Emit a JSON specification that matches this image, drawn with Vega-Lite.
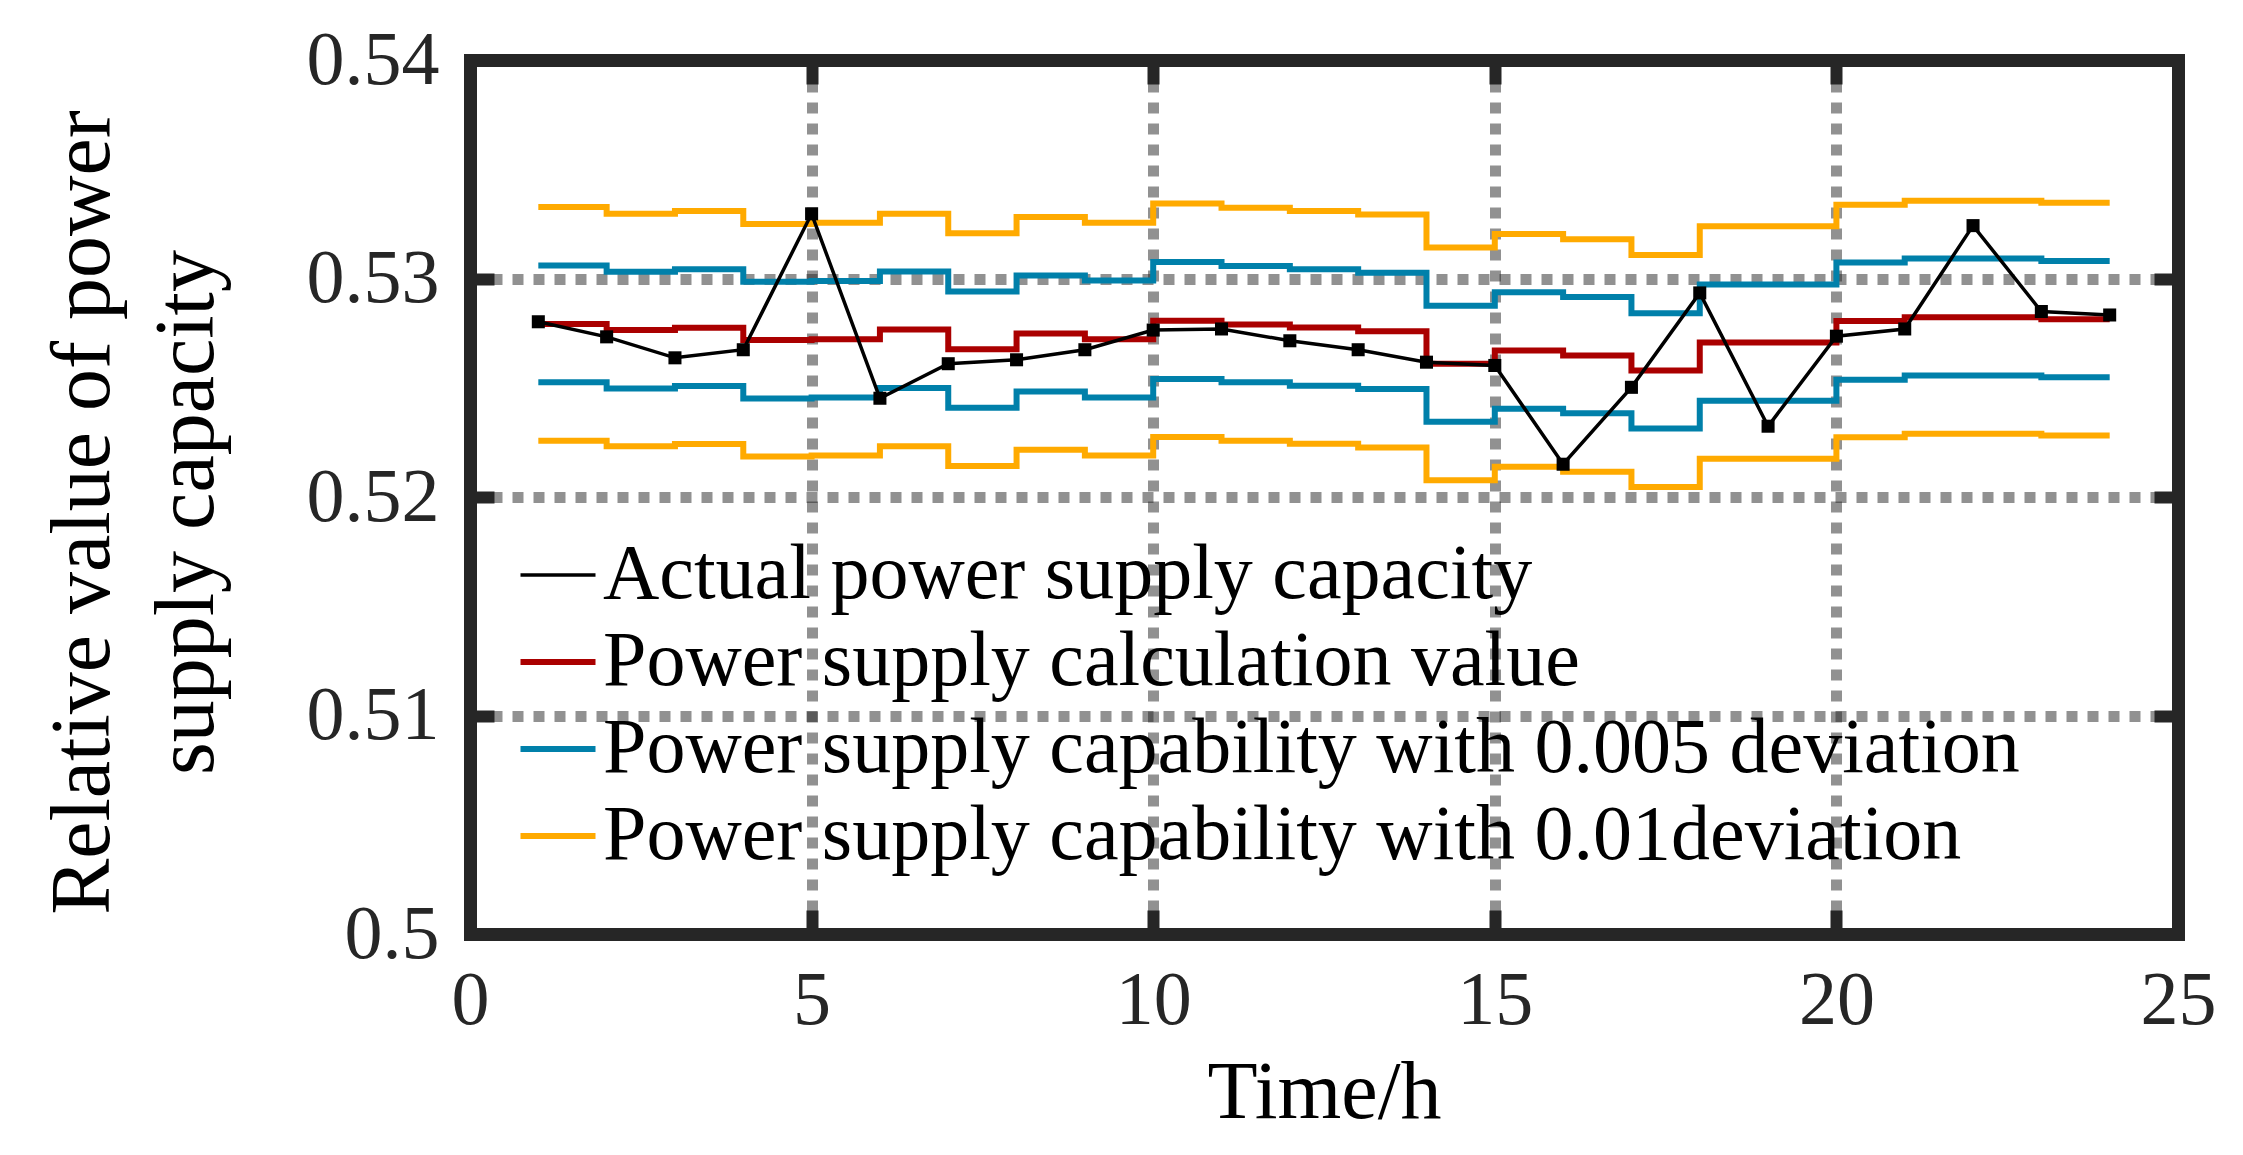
{
  "$schema": "https://vega.github.io/schema/vega-lite/v6.json",
  "width": 1708,
  "height": 874,
  "autosize": {"type": "none"},
  "padding": {"left": 470, "top": 60, "right": 65, "bottom": 221},
  "background": "white",
  "config": {
    "font": "Liberation Serif",
    "view": {"stroke": null},
    "axis": {"labelFont": "Liberation Serif", "titleFont": "Liberation Serif"},
    "legend": {"labelFont": "Liberation Serif"}
  },
  "data": {
    "values": [
      {"h":1,"s":"A","b":"m","v":0.52802},{"h":1,"s":"C","b":"m","v":0.52792},{"h":1,"s":"D5","b":"up","v":0.53059},{"h":1,"s":"D5","b":"lo","v":0.52525},{"h":1,"s":"D10","b":"up","v":0.53327},{"h":1,"s":"D10","b":"lo","v":0.52258},
      {"h":2,"s":"A","b":"m","v":0.52733},{"h":2,"s":"C","b":"m","v":0.52764},{"h":2,"s":"D5","b":"up","v":0.53031},{"h":2,"s":"D5","b":"lo","v":0.52497},{"h":2,"s":"D10","b":"up","v":0.53296},{"h":2,"s":"D10","b":"lo","v":0.52232},
      {"h":3,"s":"A","b":"m","v":0.52637},{"h":3,"s":"C","b":"m","v":0.52775},{"h":3,"s":"D5","b":"up","v":0.53042},{"h":3,"s":"D5","b":"lo","v":0.52508},{"h":3,"s":"D10","b":"up","v":0.53309},{"h":3,"s":"D10","b":"lo","v":0.52242},
      {"h":4,"s":"A","b":"m","v":0.52674},{"h":4,"s":"C","b":"m","v":0.52718},{"h":4,"s":"D5","b":"up","v":0.52985},{"h":4,"s":"D5","b":"lo","v":0.52451},{"h":4,"s":"D10","b":"up","v":0.53250},{"h":4,"s":"D10","b":"lo","v":0.52185},
      {"h":5,"s":"A","b":"m","v":0.53296},{"h":5,"s":"C","b":"m","v":0.52722},{"h":5,"s":"D5","b":"up","v":0.52989},{"h":5,"s":"D5","b":"lo","v":0.52455},{"h":5,"s":"D10","b":"up","v":0.53255},{"h":5,"s":"D10","b":"lo","v":0.52190},
      {"h":6,"s":"A","b":"m","v":0.52452},{"h":6,"s":"C","b":"m","v":0.52767},{"h":6,"s":"D5","b":"up","v":0.53032},{"h":6,"s":"D5","b":"lo","v":0.52499},{"h":6,"s":"D10","b":"up","v":0.53296},{"h":6,"s":"D10","b":"lo","v":0.52232},
      {"h":7,"s":"A","b":"m","v":0.52610},{"h":7,"s":"C","b":"m","v":0.52676},{"h":7,"s":"D5","b":"up","v":0.52940},{"h":7,"s":"D5","b":"lo","v":0.52409},{"h":7,"s":"D10","b":"up","v":0.53207},{"h":7,"s":"D10","b":"lo","v":0.52142},
      {"h":8,"s":"A","b":"m","v":0.52628},{"h":8,"s":"C","b":"m","v":0.52748},{"h":8,"s":"D5","b":"up","v":0.53014},{"h":8,"s":"D5","b":"lo","v":0.52483},{"h":8,"s":"D10","b":"up","v":0.53281},{"h":8,"s":"D10","b":"lo","v":0.52216},
      {"h":9,"s":"A","b":"m","v":0.52674},{"h":9,"s":"C","b":"m","v":0.52722},{"h":9,"s":"D5","b":"up","v":0.52991},{"h":9,"s":"D5","b":"lo","v":0.52455},{"h":9,"s":"D10","b":"up","v":0.53255},{"h":9,"s":"D10","b":"lo","v":0.52190},
      {"h":10,"s":"A","b":"m","v":0.52764},{"h":10,"s":"C","b":"m","v":0.52807},{"h":10,"s":"D5","b":"up","v":0.53076},{"h":10,"s":"D5","b":"lo","v":0.52540},{"h":10,"s":"D10","b":"up","v":0.53343},{"h":10,"s":"D10","b":"lo","v":0.52275},
      {"h":11,"s":"A","b":"m","v":0.52769},{"h":11,"s":"C","b":"m","v":0.52790},{"h":11,"s":"D5","b":"up","v":0.53057},{"h":11,"s":"D5","b":"lo","v":0.52525},{"h":11,"s":"D10","b":"up","v":0.53324},{"h":11,"s":"D10","b":"lo","v":0.52258},
      {"h":12,"s":"A","b":"m","v":0.52715},{"h":12,"s":"C","b":"m","v":0.52776},{"h":12,"s":"D5","b":"up","v":0.53042},{"h":12,"s":"D5","b":"lo","v":0.52509},{"h":12,"s":"D10","b":"up","v":0.53309},{"h":12,"s":"D10","b":"lo","v":0.52244},
      {"h":13,"s":"A","b":"m","v":0.52674},{"h":13,"s":"C","b":"m","v":0.52759},{"h":13,"s":"D5","b":"up","v":0.53026},{"h":13,"s":"D5","b":"lo","v":0.52494},{"h":13,"s":"D10","b":"up","v":0.53293},{"h":13,"s":"D10","b":"lo","v":0.52227},
      {"h":14,"s":"A","b":"m","v":0.52617},{"h":14,"s":"C","b":"m","v":0.52610},{"h":14,"s":"D5","b":"up","v":0.52875},{"h":14,"s":"D5","b":"lo","v":0.52344},{"h":14,"s":"D10","b":"up","v":0.53142},{"h":14,"s":"D10","b":"lo","v":0.52077},
      {"h":15,"s":"A","b":"m","v":0.52602},{"h":15,"s":"C","b":"m","v":0.52671},{"h":15,"s":"D5","b":"up","v":0.52937},{"h":15,"s":"D5","b":"lo","v":0.52404},{"h":15,"s":"D10","b":"up","v":0.53204},{"h":15,"s":"D10","b":"lo","v":0.52139},
      {"h":16,"s":"A","b":"m","v":0.52150},{"h":16,"s":"C","b":"m","v":0.52648},{"h":16,"s":"D5","b":"up","v":0.52915},{"h":16,"s":"D5","b":"lo","v":0.52383},{"h":16,"s":"D10","b":"up","v":0.53180},{"h":16,"s":"D10","b":"lo","v":0.52116},
      {"h":17,"s":"A","b":"m","v":0.52502},{"h":17,"s":"C","b":"m","v":0.52579},{"h":17,"s":"D5","b":"up","v":0.52841},{"h":17,"s":"D5","b":"lo","v":0.52313},{"h":17,"s":"D10","b":"up","v":0.53108},{"h":17,"s":"D10","b":"lo","v":0.52046},
      {"h":18,"s":"A","b":"m","v":0.52934},{"h":18,"s":"C","b":"m","v":0.52707},{"h":18,"s":"D5","b":"up","v":0.52972},{"h":18,"s":"D5","b":"lo","v":0.52440},{"h":18,"s":"D10","b":"up","v":0.53239},{"h":18,"s":"D10","b":"lo","v":0.52175},
      {"h":19,"s":"A","b":"m","v":0.52324},{"h":19,"s":"C","b":"m","v":0.52707},{"h":19,"s":"D5","b":"up","v":0.52972},{"h":19,"s":"D5","b":"lo","v":0.52440},{"h":19,"s":"D10","b":"up","v":0.53239},{"h":19,"s":"D10","b":"lo","v":0.52175},
      {"h":20,"s":"A","b":"m","v":0.52736},{"h":20,"s":"C","b":"m","v":0.52806},{"h":20,"s":"D5","b":"up","v":0.53073},{"h":20,"s":"D5","b":"lo","v":0.52537},{"h":20,"s":"D10","b":"up","v":0.53338},{"h":20,"s":"D10","b":"lo","v":0.52273},
      {"h":21,"s":"A","b":"m","v":0.52769},{"h":21,"s":"C","b":"m","v":0.52823},{"h":21,"s":"D5","b":"up","v":0.53091},{"h":21,"s":"D5","b":"lo","v":0.52556},{"h":21,"s":"D10","b":"up","v":0.53356},{"h":21,"s":"D10","b":"lo","v":0.52290},
      {"h":22,"s":"A","b":"m","v":0.53242},{"h":22,"s":"C","b":"m","v":0.52823},{"h":22,"s":"D5","b":"up","v":0.53091},{"h":22,"s":"D5","b":"lo","v":0.52556},{"h":22,"s":"D10","b":"up","v":0.53356},{"h":22,"s":"D10","b":"lo","v":0.52290},
      {"h":23,"s":"A","b":"m","v":0.52849},{"h":23,"s":"C","b":"m","v":0.52813},{"h":23,"s":"D5","b":"up","v":0.53080},{"h":23,"s":"D5","b":"lo","v":0.52548},{"h":23,"s":"D10","b":"up","v":0.53347},{"h":23,"s":"D10","b":"lo","v":0.52281},
      {"h":24,"s":"A","b":"m","v":0.52833},{"h":24,"s":"C","b":"m","v":0.52813},{"h":24,"s":"D5","b":"up","v":0.53080},{"h":24,"s":"D5","b":"lo","v":0.52548},{"h":24,"s":"D10","b":"up","v":0.53347},{"h":24,"s":"D10","b":"lo","v":0.52281}
    ]
  },
  "layer": [
    {
      "transform": [{"filter": "datum.s != 'A'"}],
      "mark": {"type": "line", "interpolate": "step-after", "strokeWidth": 6},
      "encoding": {
        "x": {
          "field": "h", "type": "quantitative",
          "scale": {"domain": [0, 25], "nice": false, "zero": false},
          "axis": {
            "orient": "bottom", "values": [0, 5, 10, 15, 20, 25],
            "title": "Time/h", "titleFontSize": 82, "titleFontWeight": "normal", "titleColor": "#000000",
            "titleX": 854, "titleY": 183, "titleBaseline": "alphabetic",
            "labelFontSize": 76, "labelColor": "#262626", "labelPadding": 53, "labelFlush": false, "labelOverlap": false,
            "tickSize": -24, "tickWidth": 12, "tickColor": "#262626",
            "domainColor": "#262626", "domainWidth": 13, "domainCap": "square",
            "grid": true, "gridColor": "#232323", "gridOpacity": 0.5, "gridWidth": 11, "gridDash": [11, 10]
          }
        },
        "y": {
          "field": "v", "type": "quantitative",
          "scale": {"domain": [0.5, 0.54], "nice": false, "zero": false},
          "axis": {
            "orient": "left", "values": [0.5, 0.51, 0.52, 0.53, 0.54], "format": "~g",
            "title": ["Relative value of power", "supply capacity"], "titleFontSize": 84, "titleFontWeight": "normal", "titleColor": "#000000",
            "titleLineHeight": 104, "titleX": -362, "titleY": 452, "titleBaseline": "alphabetic", "titleAngle": -90, "titleAlign": "center",
            "labelFontSize": 76, "labelColor": "#262626", "labelPadding": 55, "labelOverlap": false,
            "tickSize": -24, "tickWidth": 12, "tickColor": "#262626",
            "domainColor": "#262626", "domainWidth": 13, "domainCap": "square",
            "grid": true, "gridColor": "#232323", "gridOpacity": 0.5, "gridWidth": 11, "gridDash": [11, 10]
          }
        },
        "color": {
          "field": "s", "type": "nominal",
          "scale": {"domain": ["A", "C", "D5", "D10"], "range": ["#000000", "#AA0000", "#0080AA", "#FFAA00"]},
          "legend": {
            "orient": "none", "legendX": 49, "legendY": 476, "title": null, "padding": 0,
            "symbolType": "stroke", "symbolSize": 5625, "symbolStrokeWidth": 6,
            "labelFontSize": 78, "labelColor": "#000000", "labelOffset": 6, "labelLimit": 0, "rowPadding": 9,
            "labelExpr": "datum.label == 'A' ? 'Actual power supply capacity' : datum.label == 'C' ? 'Power supply calculation value' : datum.label == 'D5' ? 'Power supply capability with 0.005 deviation' : 'Power supply capability with 0.01deviation'",
            "encode": {"symbols": {"update": {"strokeWidth": {"signal": "datum.value == 'A' ? 3.5 : 6"}}}}
          }
        },
        "detail": {"field": "b", "type": "nominal"}
      }
    },
    {
      "transform": [{"filter": "datum.s == 'A'"}],
      "mark": {"type": "line", "strokeWidth": 3.5, "point": {"shape": "square", "size": 170, "filled": true}},
      "encoding": {
        "x": {
          "field": "h", "type": "quantitative",
          "scale": {"domain": [0, 25], "nice": false, "zero": false},
          "axis": {
            "orient": "top", "values": [0, 5, 10, 15, 20, 25], "labels": false, "title": null, "grid": false,
            "tickSize": -24, "tickWidth": 12, "tickColor": "#262626",
            "domainColor": "#262626", "domainWidth": 13, "domainCap": "square"
          }
        },
        "y": {
          "field": "v", "type": "quantitative",
          "scale": {"domain": [0.5, 0.54], "nice": false, "zero": false},
          "axis": {
            "orient": "right", "values": [0.5, 0.51, 0.52, 0.53, 0.54], "labels": false, "title": null, "grid": false,
            "tickSize": -24, "tickWidth": 12, "tickColor": "#262626",
            "domainColor": "#262626", "domainWidth": 13, "domainCap": "square"
          }
        },
        "color": {"field": "s", "type": "nominal"}
      }
    }
  ],
  "resolve": {"axis": {"x": "independent", "y": "independent"}}
}
